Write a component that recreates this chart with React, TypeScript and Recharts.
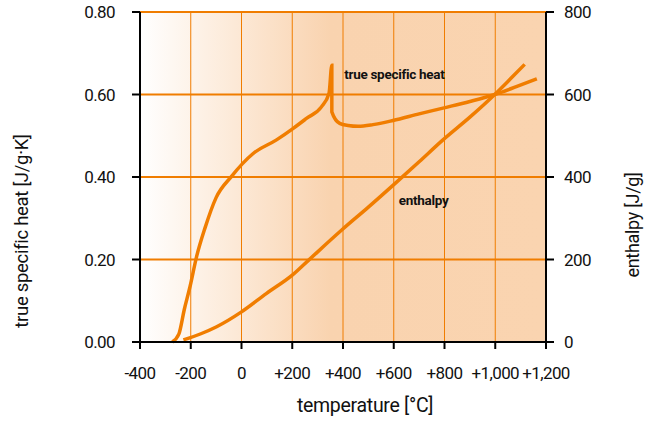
import React from 'react';
import {
  ComposedChart,
  Line,
  XAxis,
  YAxis,
  CartesianGrid,
  ReferenceDot,
  Label,
} from 'recharts';

const specificHeat = [
  { t: -273, v: 0.0 },
  { t: -247, v: 0.019 },
  { t: -225, v: 0.08 },
  { t: -203, v: 0.134 },
  { t: -177, v: 0.207 },
  { t: -144, v: 0.276 },
  { t: -100, v: 0.35 },
  { t: -40, v: 0.401 },
  { t: 46, v: 0.457 },
  { t: 138, v: 0.49 },
  { t: 204, v: 0.518 },
  { t: 256, v: 0.542 },
  { t: 315, v: 0.57 },
  { t: 345, v: 0.603 },
  { t: 356, v: 0.671 },
  { t: 356, v: 0.558 },
  { t: 387, v: 0.53 },
  { t: 420, v: 0.525 },
  { t: 460, v: 0.523 },
  { t: 518, v: 0.527 },
  { t: 597, v: 0.537 },
  { t: 700, v: 0.553 },
  { t: 794, v: 0.567 },
  { t: 900, v: 0.583 },
  { t: 998, v: 0.6 },
  { t: 1083, v: 0.619 },
  { t: 1164, v: 0.638 },
];

const enthalpy = [
  { t: -229, h: 5 },
  { t: -160, h: 20 },
  { t: -98, h: 37 },
  { t: 0, h: 73 },
  { t: 99, h: 118 },
  { t: 200, h: 162 },
  { t: 269, h: 201 },
  { t: 396, h: 272 },
  { t: 500, h: 327 },
  { t: 610, h: 387 },
  { t: 700, h: 437 },
  { t: 794, h: 490 },
  { t: 900, h: 545 },
  { t: 998, h: 600 },
  { t: 1060, h: 638 },
  { t: 1116, h: 673 },
];

const xTicks = [-400, -200, 0, 200, 400, 600, 800, 1000, 1200];
const leftTicks = [0, 0.2, 0.4, 0.6, 0.8];
const rightTicks = [0, 200, 400, 600, 800];

const ORANGE = '#f07d00';
const FONT = '"Roboto", "Liberation Sans", sans-serif';
const TICK = { fill: '#111', fontSize: 17, fontFamily: FONT, letterSpacing: -0.6 };

const fmtX = (v: number) => {
  if (v <= 0) return String(v);
  return '+' + v.toLocaleString('en-US');
};

export default function App() {
  return (
    <div style={{ position: 'absolute', left: 0, top: 0, width: 650, height: 421 }}>
      <ComposedChart
        width={650}
        height={421}
        margin={{ top: 12, right: 0, bottom: 0, left: 0 }}
        style={{ fontFamily: FONT }}
      >
        <defs>
          <linearGradient id="bg" x1="0" y1="0" x2="1" y2="0">
            <stop offset="0%" stopColor="#ffffff" />
            <stop offset="47%" stopColor="#f9d3af" />
            <stop offset="100%" stopColor="#fad4b0" />
          </linearGradient>
        </defs>
        <CartesianGrid
          yAxisId="left"
          fill="url(#bg)"
          fillOpacity={1}
          stroke={ORANGE}
          strokeWidth={1}
          horizontal={false}
        />
        <CartesianGrid
          yAxisId="left"
          stroke={ORANGE}
          strokeWidth={2}
          vertical={false}
        />
        <XAxis
          type="number"
          dataKey="t"
          domain={[-400, 1200]}
          ticks={xTicks}
          interval={0}
          tickFormatter={fmtX}
          height={79}
          tickSize={7}
          tickMargin={18}
          axisLine={{ stroke: '#000', strokeWidth: 2 }}
          tickLine={{ stroke: '#000', strokeWidth: 2 }}
          tick={TICK}
          allowDataOverflow
        >
          <Label
            content={() => (
              <text x={365} y={412} textAnchor="middle" fontSize={19.5} fill="#111" fontFamily={FONT} letterSpacing={-0.3}>
                temperature [°C]
              </text>
            )}
          />
        </XAxis>
        <YAxis
          yAxisId="left"
          orientation="left"
          domain={[0, 0.8]}
          ticks={leftTicks}
          interval={0}
          tickFormatter={(v: number) => v.toFixed(2)}
          width={140}
          tickSize={8}
          tickMargin={17}
          axisLine={{ stroke: '#000', strokeWidth: 2 }}
          tickLine={{ stroke: '#000', strokeWidth: 2 }}
          tick={TICK}
        >
          <Label
            content={() => (
              <text
                x={28}
                y={231}
                transform="rotate(-90 28 231)"
                textAnchor="middle"
                fontSize={18.5}
                fill="#111"
                fontFamily={FONT}
                letterSpacing={-0.3}
              >
                true specific heat [J/g·K]
              </text>
            )}
          />
        </YAxis>
        <YAxis
          yAxisId="right"
          orientation="right"
          domain={[0, 800]}
          ticks={rightTicks}
          interval={0}
          width={104}
          tickSize={8}
          tickMargin={10}
          axisLine={{ stroke: '#000', strokeWidth: 2 }}
          tickLine={{ stroke: '#000', strokeWidth: 2 }}
          tick={TICK}
        >
          <Label
            content={() => (
              <text
                x={639}
                y={225}
                transform="rotate(-90 639 225)"
                textAnchor="middle"
                fontSize={18}
                fill="#111"
                fontFamily={FONT}
                letterSpacing={-0.3}
              >
                enthalpy [J/g]
              </text>
            )}
          />
        </YAxis>
        <Line
          yAxisId="left"
          data={specificHeat}
          dataKey="v"
          type="monotone"
          stroke={ORANGE}
          strokeWidth={3.5}
          dot={false}
          isAnimationActive={false}
        />
        <Line
          yAxisId="right"
          data={enthalpy}
          dataKey="h"
          type="monotone"
          stroke={ORANGE}
          strokeWidth={3.5}
          dot={false}
          isAnimationActive={false}
        />
        <ReferenceDot
          yAxisId="left"
          x={405}
          y={0.65}
          r={0}
          fill="none"
          stroke="none"
          label={{
            value: 'true specific heat',
            position: 'right',
            offset: 0,
            fill: '#111',
            fontSize: 13.5,
            fontWeight: 'bold',
            fontFamily: FONT,
            letterSpacing: -0.3,
          }}
        />
        <ReferenceDot
          yAxisId="left"
          x={620}
          y={0.343}
          r={0}
          fill="none"
          stroke="none"
          label={{
            value: 'enthalpy',
            position: 'right',
            offset: 0,
            fill: '#111',
            fontSize: 13.5,
            fontWeight: 'bold',
            fontFamily: FONT,
            letterSpacing: -0.3,
          }}
        />
      </ComposedChart>
    </div>
  );
}
